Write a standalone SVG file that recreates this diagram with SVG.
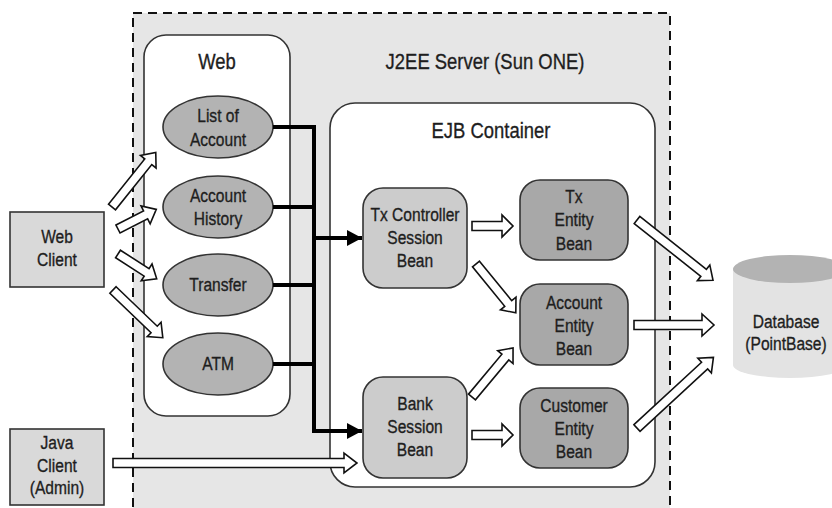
<svg xmlns="http://www.w3.org/2000/svg" width="832" height="508" viewBox="0 0 832 508">
<style>
.t{font-family:"Liberation Sans",Arial,sans-serif;font-size:19px;fill:#1e1e1e;stroke:#1e1e1e;stroke-width:0.35;text-anchor:middle}
.h{font-size:22.5px}
.box{stroke:#333;stroke-width:1.6}
.ba{fill:#fff;stroke:#111;stroke-width:1.6;stroke-linejoin:miter}
.bus{fill:none;stroke:#000;stroke-width:4}
</style>
<defs>
<marker id="ah" markerUnits="userSpaceOnUse" markerWidth="16" markerHeight="18" refX="15" refY="8" orient="auto">
<path d="M0,0 L15,8 L0,16 Z" fill="#000"/>
</marker>
</defs>
<g id="j2ee-server">
<rect x="133" y="13" width="537" height="520" fill="#e6e6e6" stroke="#111" stroke-width="2" stroke-dasharray="9,6"/>
<text class="t h" transform="matrix(0.82 0 0 1 485 0)" y="69">J2EE Server (Sun ONE)</text>
</g>
<g id="web">
<rect class="box" x="144" y="35" width="146" height="381" rx="22" fill="#fff"/>
<text class="t h" transform="matrix(0.82 0 0 1 217 0)" y="69">Web</text>
</g>
<g id="ejb-container">
<rect class="box" x="330" y="103" width="325" height="384" rx="25" fill="#fff"/>
<text class="t h" transform="matrix(0.82 0 0 1 491 0)" y="138">EJB Container</text>
</g>
<g id="list-of-account">
<ellipse class="box" cx="218" cy="127" rx="55" ry="31" fill="#b3b3b3"/>
<g transform="matrix(0.82 0 0 1 218 0)"><text class="t" y="122">List of</text><text class="t" y="146">Account</text></g>
</g>
<g id="account-history">
<ellipse class="box" cx="218" cy="207" rx="55" ry="31" fill="#b3b3b3"/>
<g transform="matrix(0.82 0 0 1 218 0)"><text class="t" y="202">Account</text><text class="t" y="225">History</text></g>
</g>
<g id="transfer">
<ellipse class="box" cx="218" cy="285" rx="55" ry="31" fill="#b3b3b3"/>
<g transform="matrix(0.82 0 0 1 218 0)"><text class="t" y="291">Transfer</text></g>
</g>
<g id="atm">
<ellipse class="box" cx="218" cy="364" rx="55" ry="31" fill="#b3b3b3"/>
<g transform="matrix(0.82 0 0 1 218 0)"><text class="t" y="370">ATM</text></g>
</g>
<g id="tx-controller">
<rect class="box" x="363" y="188" width="104" height="100" rx="20" fill="#cccccc"/>
<g transform="matrix(0.82 0 0 1 415 0)"><text class="t" y="221">Tx Controller</text><text class="t" y="244">Session</text><text class="t" y="267">Bean</text></g>
</g>
<g id="bank-session">
<rect class="box" x="363" y="377" width="104" height="101" rx="20" fill="#cccccc"/>
<g transform="matrix(0.82 0 0 1 415 0)"><text class="t" y="410">Bank</text><text class="t" y="433">Session</text><text class="t" y="456">Bean</text></g>
</g>
<g id="tx-entity">
<rect class="box" x="520" y="180" width="108" height="80" rx="20" fill="#a8a8a8"/>
<g transform="matrix(0.82 0 0 1 574 0)"><text class="t" y="203">Tx</text><text class="t" y="226">Entity</text><text class="t" y="250">Bean</text></g>
</g>
<g id="account-entity">
<rect class="box" x="520" y="284" width="108" height="81" rx="20" fill="#a8a8a8"/>
<g transform="matrix(0.82 0 0 1 574 0)"><text class="t" y="309">Account</text><text class="t" y="332">Entity</text><text class="t" y="355">Bean</text></g>
</g>
<g id="customer-entity">
<rect class="box" x="520" y="388" width="108" height="80" rx="20" fill="#a8a8a8"/>
<g transform="matrix(0.82 0 0 1 574 0)"><text class="t" y="412">Customer</text><text class="t" y="435">Entity</text><text class="t" y="458">Bean</text></g>
</g>
<g id="web-client">
<rect class="box" x="10" y="212" width="94" height="75" fill="#d9d9d9"/>
<g transform="matrix(0.82 0 0 1 57 0)"><text class="t" y="243">Web</text><text class="t" y="266">Client</text></g>
</g>
<g id="java-client">
<rect class="box" x="10" y="429" width="94" height="76" fill="#d9d9d9"/>
<g transform="matrix(0.82 0 0 1 57 0)"><text class="t" y="449">Java</text><text class="t" y="472">Client</text><text class="t" y="494">(Admin)</text></g>
</g>
<g id="database">
<path d="M733,269 V365 A57,13 0 0 0 847,365 V269 Z" fill="#e3e3e3"/>
<ellipse cx="790" cy="269" rx="57" ry="14" fill="#b3b3b3"/>
<g transform="matrix(0.82 0 0 1 786 0)"><text class="t" y="328">Database</text><text class="t" y="350">(PointBase)</text></g>
</g>
<g id="connectors">
<path class="bus" d="M273,127 H314 M273,207 H314 M273,285 H314 M273,364 H314 M314,125 V433"/>
<path class="bus" d="M312,238 H362" marker-end="url(#ah)"/>
<path class="bus" d="M312,431 H362" marker-end="url(#ah)"/>
<path class="ba" transform="translate(112 207) rotate(-51.3)" d="M0,-4.5 H58 V-10 L70,0 L58,10 V4.5 H0 Z"/>
<path class="ba" transform="translate(118 229) rotate(-27.1)" d="M0,-4.5 H31 V-10 L43,0 L31,10 V4.5 H0 Z"/>
<path class="ba" transform="translate(118 254) rotate(32.7)" d="M0,-4.5 H34 V-10 L46,0 L34,10 V4.5 H0 Z"/>
<path class="ba" transform="translate(113 290) rotate(43.8)" d="M0,-4.5 H57 V-10 L69,0 L57,10 V4.5 H0 Z"/>
<path class="ba" transform="translate(113 463)" d="M0,-4.5 H231 V-10 L244,0 L231,10 V4.5 H0 Z"/>
<path class="ba" transform="translate(472 226)" d="M0,-4.5 H30 V-11 L41,0 L30,11 V4.5 H0 Z"/>
<path class="ba" transform="translate(476 264) rotate(50.8)" d="M0,-4.5 H51 V-10 L63,0 L51,10 V4.5 H0 Z"/>
<path class="ba" transform="translate(472 397) rotate(-50.1)" d="M0,-4.5 H52 V-10 L64,0 L52,10 V4.5 H0 Z"/>
<path class="ba" transform="translate(472 435)" d="M0,-4.5 H30 V-11 L41,0 L30,11 V4.5 H0 Z"/>
<path class="ba" transform="translate(637 220) rotate(38.4)" d="M0,-4.5 H85 V-10 L97,0 L85,10 V4.5 H0 Z"/>
<path class="ba" transform="translate(634 325)" d="M0,-4.5 H68 V-11 L80,0 L68,11 V4.5 H0 Z"/>
<path class="ba" transform="translate(637 428) rotate(-42.7)" d="M0,-4.5 H92 V-10 L104,0 L92,10 V4.5 H0 Z"/>
</g>
</svg>
